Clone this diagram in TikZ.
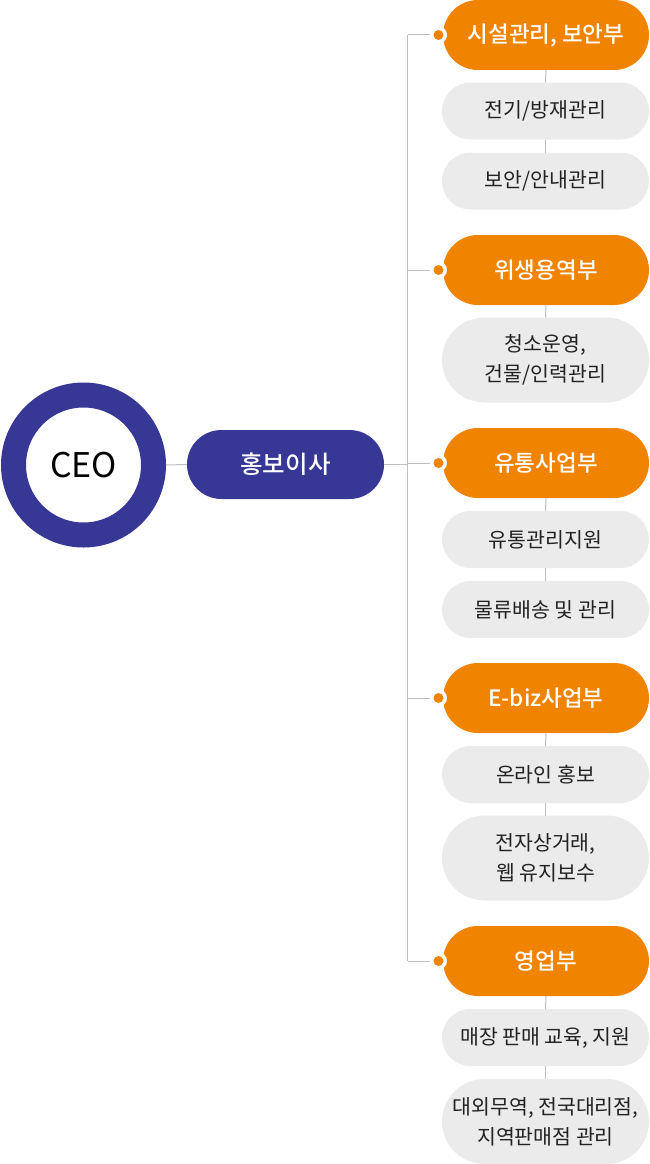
\documentclass[tikz,border=0pt]{standalone}
\usepackage{fontspec}
\setmainfont{Noto Sans CJK KR}
\newfontfamily\medfont{Noto Sans CJK KR}[UprightFont=* Medium]
\definecolor{navy}{RGB}{55,55,150}
\definecolor{orng}{RGB}{240,131,0}
\definecolor{lgray}{RGB}{235,235,235}
\definecolor{linec}{RGB}{190,190,190}
\definecolor{txt}{RGB}{34,34,34}
\tikzset{
  dept/.style={fill=orng, text=white, minimum width=206pt, minimum height=70pt, rounded corners=35pt, inner sep=0pt, outer sep=0pt, font=\medfont\fontsize{22.5}{27}\selectfont},
  task/.style={fill=lgray, text=txt, minimum width=207pt, minimum height=57pt, rounded corners=28.5pt, inner sep=0pt, outer sep=0pt, align=center, font=\fontsize{20.5}{30}\selectfont},
  task2/.style={task, minimum height=85pt, rounded corners=42.5pt},
  conn/.style={draw=linec, line width=1pt},
  ring/.style={circle, fill=white, minimum size=17pt, inner sep=0pt, outer sep=0pt},
  dotc/.style={circle, fill=orng, minimum size=10pt, inner sep=0pt},
}
\begin{document}
\begin{tikzpicture}[x=1pt,y=-1pt]
\useasboundingbox (0,0) rectangle (649,1164);
% CEO
\node[circle, draw=navy, line width=25pt, minimum size=140pt, inner sep=0pt, font=\fontsize{34}{40}\selectfont, text=black] (ceo) at (83.5,465) {CEO};
\node[fill=navy, text=white, minimum width=197pt, minimum height=69pt, rounded corners=34.5pt, inner sep=0pt, font=\medfont\fontsize{24.5}{28}\selectfont] (pr) at (285.5,464.5) {홍보이사};
\draw[conn] (ceo.east) -- (pr.west);
% departments
\node[dept] (o1) at (546,35) {시설관리, 보안부};
\node[task] (g11) at (545.5,111) {전기/방재관리};
\node[task] (g12) at (545.5,181) {보안/안내관리};
\node[dept] (o2) at (546,270) {위생용역부};
\node[task2] (g21) at (545.5,360) {청소운영,\\건물/인력관리};
\node[dept] (o3) at (546,463) {유통사업부};
\node[task] (g31) at (545.5,539.5) {유통관리지원};
\node[task] (g32) at (545.5,609.5) {물류배송 및 관리};
\node[dept] (o4) at (546,698) {E-biz사업부};
\node[task] (g41) at (545.5,774.5) {온라인 홍보};
\node[task2] (g42) at (545.5,858) {전자상거래,\\웹 유지보수};
\node[dept] (o5) at (546,961) {영업부};
\node[task] (g51) at (545.5,1037.5) {매장 판매 교육, 지원};
\node[task2] (g52) at (545.5,1121.5) {대외무역, 전국대리점,\\지역판매점 관리};
% vertical links inside columns
\foreach \a/\b in {o1/g11, g11/g12, o2/g21, o3/g31, g31/g32, o4/g41, g41/g42, o5/g51, g51/g52}
  \draw[conn] (\a.south) -- (\b.north);
% dots
\foreach \i/\y in {1/35, 2/270, 3/463, 4/698, 5/961} {
  \node[ring] (r\i) at (438.5,\y) {};
  \node[dotc] (d\i) at (438.5,\y) {};
}
% trunk
\coordinate (ttop) at (407.5,35);
\coordinate (tbot) at (407.5,961);
\coordinate (tmid) at (407.5,464.5);
\draw[conn] (ttop) -- (tbot);
\draw[conn] (pr.east) -- (tmid);
\foreach \i in {1,...,5}
  \draw[conn] (ttop |- r\i) -- (r\i.west);
\end{tikzpicture}
\end{document}
